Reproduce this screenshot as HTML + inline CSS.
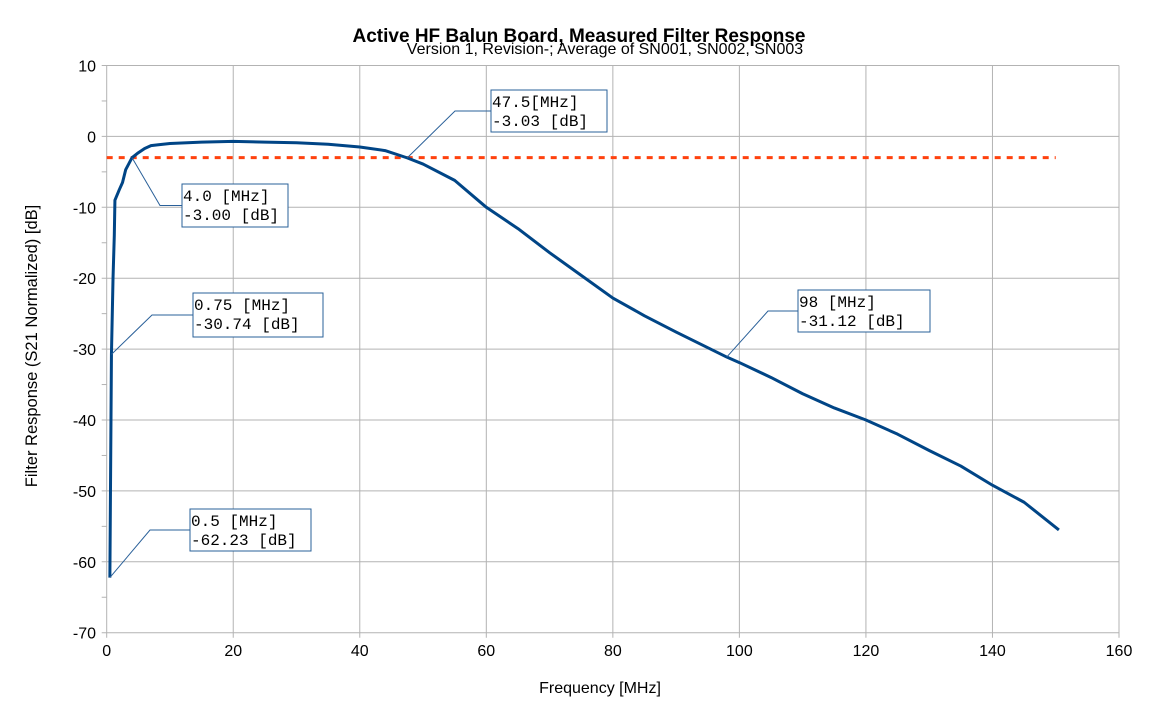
<!DOCTYPE html>
<html><head><meta charset="utf-8"><style>
body{margin:0;background:#fff;}
svg{display:block;font-family:"Liberation Sans",sans-serif;}
.mono{font-family:"Liberation Mono",monospace;font-size:16px;fill:#000;}
</style></head><body>
<svg id="chart" width="1159" height="709">
<text x="579" y="42" text-anchor="middle" font-size="19" font-weight="bold">Active HF Balun Board, Measured Filter Response</text>
<text x="605" y="54" text-anchor="middle" font-size="16">Version 1, Revision-; Average of SN001, SN002, SN003</text>
<text transform="translate(37,346) rotate(-90)" text-anchor="middle" font-size="16.5">Filter Response (S21 Normalized) [dB]</text>
<text x="600" y="693" text-anchor="middle" font-size="16">Frequency [MHz]</text>
<g id="grid"></g><g id="axes"></g><g id="marks"></g><g id="notes"></g>
</svg>
<script>
const xTicks=[0,20,40,60,80,100,120,140,160];
const yTicks=[10,0,-10,-20,-30,-40,-50,-60,-70];
const freq=[0.5,0.75,1,1.2,1.3,2,2.5,3,4,5,6,7,8,10,15,20,25,30,35,40,44,47.5,50,55,60,65,70,75,80,85,90,95,98,100,105,110,115,120,125,130,135,140,145,150.5];
const resp=[-62.23,-30.74,-20,-14,-9,-7.5,-6.5,-4.7,-3.0,-2.3,-1.7,-1.3,-1.2,-1.0,-0.8,-0.7,-0.8,-0.9,-1.1,-1.5,-2.0,-3.03,-3.9,-6.2,-10.0,-13.0,-16.4,-19.6,-22.8,-25.3,-27.6,-29.8,-31.12,-31.9,-34.0,-36.3,-38.3,-40.0,-42.0,-44.3,-46.5,-49.2,-51.6,-55.5];
const refLevel=-3;
const notes=[
 {f:0.5,v:-62.23,l1:"0.5 [MHz]",l2:"-62.23 [dB]",bx:190,by:509,bw:121,bh:42,kx:150},
 {f:0.75,v:-30.74,l1:"0.75 [MHz]",l2:"-30.74 [dB]",bx:193,by:293,bw:130,bh:44,kx:152},
 {f:4.0,v:-3.00,l1:"4.0 [MHz]",l2:"-3.00 [dB]",bx:182,by:184,bw:106,bh:43,kx:160},
 {f:47.5,v:-3.03,l1:"47.5[MHz]",l2:"-3.03 [dB]",bx:491,by:90,bw:116,bh:42,kx:455},
 {f:98,v:-31.12,l1:"98 [MHz]",l2:"-31.12 [dB]",bx:798,by:290,bw:132,bh:42,kx:768}
];
const X0=106.7,X1=1119,Y0=632.7,Y1=65.5;
const xs=f=>X0+(f-0)/(160-0)*(X1-X0);
const ys=v=>Y0-(v+70)/80*(Y0-Y1);
const NS="http://www.w3.org/2000/svg";
function mk(tag,parent,attrs){const e=document.createElementNS(NS,tag);for(const k in attrs)e.setAttribute(k,attrs[k]);document.getElementById(parent).appendChild(e);return e;}
yTicks.forEach(t=>{
 const g=mk('line','grid',{x1:X0-5,x2:X1,y1:ys(t),y2:ys(t),stroke:'#b3b3b3','stroke-width':1});
 
 
 const l=mk('text','axes',{x:96,y:ys(t)+6,'text-anchor':'end','font-size':16});
 l.textContent=t;
 
 
 if(t>-70){const m=mk('line','axes',{x1:X0-5,x2:X0,y1:ys(t-5),y2:ys(t-5),stroke:'#b3b3b3'});
 
 }
});
xTicks.forEach(t=>{
 const g=mk('line','grid',{x1:xs(t),x2:xs(t),y1:Y1,y2:Y0+5,stroke:'#b3b3b3','stroke-width':1});
 
 
 const l=mk('text','axes',{x:xs(t),y:656,'text-anchor':'middle','font-size':16});
 l.textContent=t;
 
 
});
const ref=mk('line','marks',{x1:xs(0),x2:xs(150),y1:ys(refLevel),y2:ys(refLevel),stroke:'#ff420e','stroke-width':3,'stroke-dasharray':'6,6'});


const pl=mk('polyline','marks',{points:freq.map((f,i)=>xs(f)+','+ys(resp[i])).join(' '),fill:'none',stroke:'#004586','stroke-width':3,'stroke-linejoin':'round'});


notes.forEach(n=>{
 const px=xs(n.f),py=ys(n.v),ky=n.by+n.bh/2;
 const ld=mk('polyline','notes',{points:`${px},${py} ${n.kx},${ky} ${n.bx},${ky}`,fill:'none',stroke:'#2a6099','stroke-width':1});
 
 
 const r=mk('rect','notes',{x:n.bx,y:n.by,width:n.bw,height:n.bh,fill:'#fff',stroke:'#2a6099','stroke-width':1});
 
 
 const t1=mk('text','notes',{x:n.bx+1,y:n.by+17,class:'mono'});t1.textContent=n.l1;
 
 
 const t2=mk('text','notes',{x:n.bx+1,y:n.by+36,class:'mono'});t2.textContent=n.l2;
 
 
});
</script>
</body></html>
